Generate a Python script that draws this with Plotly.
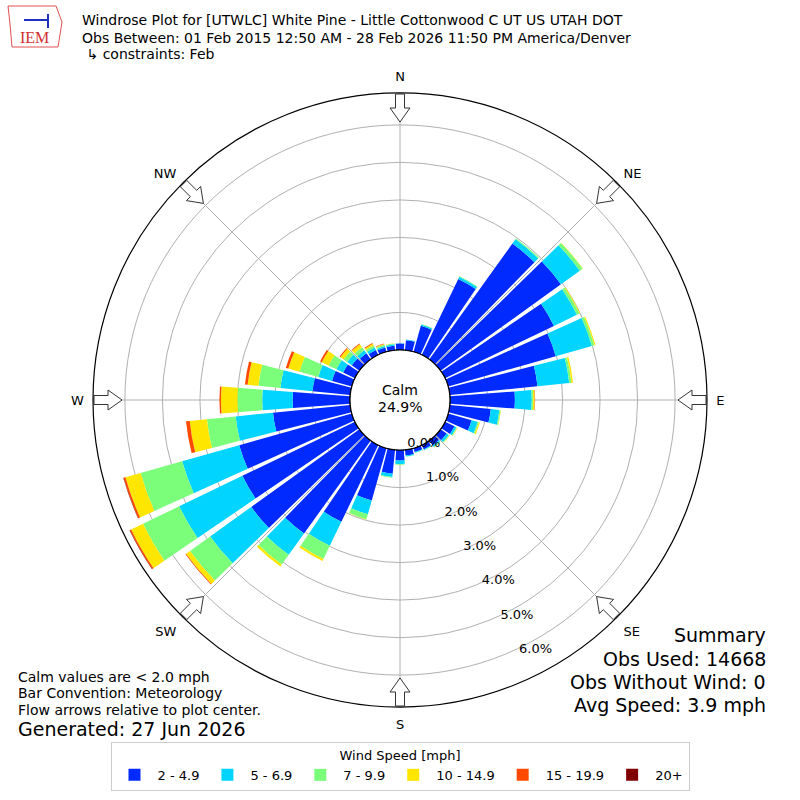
import math
import plotly.graph_objects as go

# wind directions (deg, meteorological: where the wind blows from)
directions = list(range(0, 360, 10))

# frequency (%) per speed bin
spd_2_5 = [0.17, 0.27, 0.72, 2.25, 3.80, 3.95, 3.22, 2.98, 2.35, 1.73, 1.10, 0.65,
           0.28, 0.20, 0.16, 0.13, 0.11, 0.15, 0.28, 0.64, 1.45, 2.27, 3.05, 3.55,
           3.33, 3.12, 2.07, 1.53, 1.01, 0.55, 0.35, 0.25, 0.20, 0.15, 0.12, 0.12]
spd_5_7 = [0.01, 0.02, 0.04, 0.06, 0.14, 0.62, 0.68, 1.00, 0.85, 0.45, 0.23, 0.17,
           0.06, 0.07, 0.04, 0.02, 0.02, 0.03, 0.09, 0.09, 0.38, 0.71, 0.70, 1.35,
           1.87, 1.58, 1.00, 0.81, 0.86, 0.38, 0.20, 0.15, 0.10, 0.07, 0.04, 0.04]
spd_7_10 = [0.00, 0.00, 0.01, 0.02, 0.03, 0.09, 0.08, 0.07, 0.06, 0.04, 0.03, 0.03,
            0.02, 0.02, 0.02, 0.01, 0.01, 0.01, 0.02, 0.02, 0.14, 0.39, 0.32, 0.66,
            1.07, 1.15, 0.77, 0.66, 0.59, 0.52, 0.23, 0.12, 0.10, 0.06, 0.04, 0.02]
spd_10_15 = [0.00, 0.00, 0.00, 0.00, 0.00, 0.01, 0.02, 0.03, 0.04, 0.04, 0.01, 0.03,
             0.01, 0.01, 0.00, 0.00, 0.00, 0.00, 0.00, 0.00, 0.01, 0.06, 0.06, 0.13,
             0.35, 0.42, 0.46, 0.44, 0.29, 0.31, 0.20, 0.10, 0.10, 0.05, 0.02, 0.01]
spd_15_20 = [0.00, 0.00, 0.00, 0.00, 0.00, 0.00, 0.00, 0.00, 0.00, 0.01, 0.00, 0.00,
             0.00, 0.00, 0.00, 0.00, 0.00, 0.00, 0.00, 0.00, 0.00, 0.00, 0.00, 0.02,
             0.04, 0.05, 0.10, 0.04, 0.07, 0.07, 0.05, 0.03, 0.02, 0.02, 0.01, 0.00]
spd_20 = [0.00] * 24 + [0.01, 0.01] + [0.00] * 10

bins = ["2 - 4.9", "5 - 6.9", "7 - 9.9", "10 - 14.9", "15 - 19.9", "20+"]
colors = ["#002aff", "#00d4ff", "#7bff7b", "#ffe600", "#ff4900", "#800000"]
series = [spd_2_5, spd_5_7, spd_7_10, spd_10_15, spd_15_20, spd_20]

radial_ticks = [0, 1, 2, 3, 4, 5, 6]
radial_text = ["%.1f%%" % v for v in radial_ticks]
compass = ["N", "NE", "E", "SE", "S", "SW", "W", "NW"]
compass_deg = [0, 45, 90, 135, 180, 225, 270, 315]

calm_pct = 24.9
W, H = 800, 800
R_OUT = 307.0   # px radius of the polar area
HOLE = 50.0     # px radius of the calm circle
RMAX = 6.85

FONT = "DejaVu Sans"

fig = go.Figure()

for name, vals, col in zip(bins, series, colors):
    fig.add_trace(go.Barpolar(
        r=vals, theta=directions, width=8.6, name=name,
        marker=dict(color=col, line=dict(width=0)),
        hoverinfo="skip",
    ))

# calm circle outline
fig.add_trace(go.Scatterpolar(
    r=[0] * 361, theta=list(range(361)), mode="lines",
    line=dict(color="black", width=1.2), showlegend=False, hoverinfo="skip",
))

# flow arrows pointing toward the centre
px_per_unit = (R_OUT - HOLE) / RMAX
arrow_px = [(306, -4.5), (292, -4.5), (292, -10), (278, 0), (292, 10), (292, 4.5), (306, 4.5), (306, -4.5)]
for b in compass_deg:
    rr, tt = [], []
    for R, w in arrow_px:
        d = math.hypot(R, w)
        rr.append((d - HOLE) / px_per_unit)
        tt.append(b + math.degrees(math.atan2(w, R)))
    fig.add_trace(go.Scatterpolar(
        r=rr, theta=tt, mode="lines", fill="toself", fillcolor="white",
        line=dict(color="#333333", width=1), showlegend=False, hoverinfo="skip",
    ))

# radial tick labels (matplotlib spreads them a little wider than the rings)
fig.add_trace(go.Scatterpolar(
    r=[v * 1.04 for v in radial_ticks], theta=[151.5] * len(radial_ticks), mode="text",
    text=radial_text, textfont=dict(family=FONT, size=13, color="black"),
    showlegend=False, hoverinfo="skip", cliponaxis=False,
))

dom = [(W / 2 - R_OUT) / W, (W / 2 + R_OUT) / W]
fig.update_layout(
    width=W, height=H,
    margin=dict(l=0, r=0, t=0, b=0),
    paper_bgcolor="white",
    font=dict(family=FONT, size=13, color="black"),
    polar=dict(
        domain=dict(x=dom, y=dom),
        hole=HOLE / R_OUT,
        bgcolor="white",
        barmode="stack",
        radialaxis=dict(
            range=[0, RMAX], tickvals=radial_ticks[1:], showticklabels=False,
            showline=False, ticks="", gridcolor="#b0b0b0", gridwidth=1,
            layer="above traces",
        ),
        angularaxis=dict(
            rotation=90, direction="clockwise",
            tickmode="array", tickvals=compass_deg, ticktext=compass,
            ticks="outside", ticklen=6, tickcolor="rgba(0,0,0,0)",
            showline=True, linecolor="black", linewidth=1.2,
            gridcolor="#b0b0b0", gridwidth=1, layer="above traces",
            tickfont=dict(family=FONT, size=13),
        ),
    ),
    legend=dict(
        orientation="h", x=0.5, xanchor="center", y=1 - 742 / H, yanchor="top",
        bordercolor="#cccccc", borderwidth=1, bgcolor="white",
        title=dict(text="Wind Speed [mph]", side="top center", font=dict(size=13)),
        font=dict(family=FONT, size=13), itemwidth=36,
    ),
    showlegend=True,
)

def note(txt, x, y, size=13, anchor="left", color="black", family=FONT):
    fig.add_annotation(text=txt, x=x / W, y=1 - y / H, xref="paper", yref="paper",
                       xanchor=anchor, yanchor="middle", showarrow=False,
                       font=dict(family=family, size=size, color=color))

note("Windrose Plot for [UTWLC] White Pine - Little Cottonwood C UT US UTAH DOT", 80, 20, 14)
note("Obs Between: 01 Feb 2015 12:50 AM - 28 Feb 2026 11:50 PM America/Denver", 80, 38, 14)
note(" \u21b3 constraints: Feb", 80, 54, 14)

note("Calm", 400, 390, 14, "center")
note("%.1f%%" % calm_pct, 400, 407, 14, "center")

note("Calm values are < 2.0 mph", 16, 677, 14)
note("Bar Convention: Meteorology", 16, 693, 14)
note("Flow arrows relative to plot center.", 16, 710, 14)
note("Generated: 27 Jun 2026", 16, 729, 19)

note("Summary", 768, 635, 19, "right")
note("Obs Used: 14668", 768, 659, 19, "right")
note("Obs Without Wind: 0", 768, 682, 19, "right")
note("Avg Speed: 3.9 mph", 768, 705, 19, "right")

# IEM logo (rough)
fig.add_shape(type="path", xref="paper", yref="paper", line=dict(color="#e05050", width=1),
              path="M %f %f L %f %f L %f %f L %f %f L %f %f L %f %f Z" % (
                  8 / W, 1 - 6 / H, 56 / W, 1 - 6 / H, 62 / W, 1 - 22 / H,
                  58 / W, 1 - 47 / H, 12 / W, 1 - 47 / H, 10 / W, 1 - 24 / H))
fig.add_shape(type="line", xref="paper", yref="paper", x0=24 / W, x1=48 / W,
              y0=1 - 20 / H, y1=1 - 20 / H, line=dict(color="#2030c0", width=2))
fig.add_shape(type="line", xref="paper", yref="paper", x0=48 / W, x1=48 / W,
              y0=1 - 14 / H, y1=1 - 28 / H, line=dict(color="#2030c0", width=2))
note("IEM", 34, 38, 16, "center", "#d03030", "Liberation Serif")

fig.write_html("out.html", config={"displayModeBar": False},
               post_script="document.body.style.margin='0px';")
